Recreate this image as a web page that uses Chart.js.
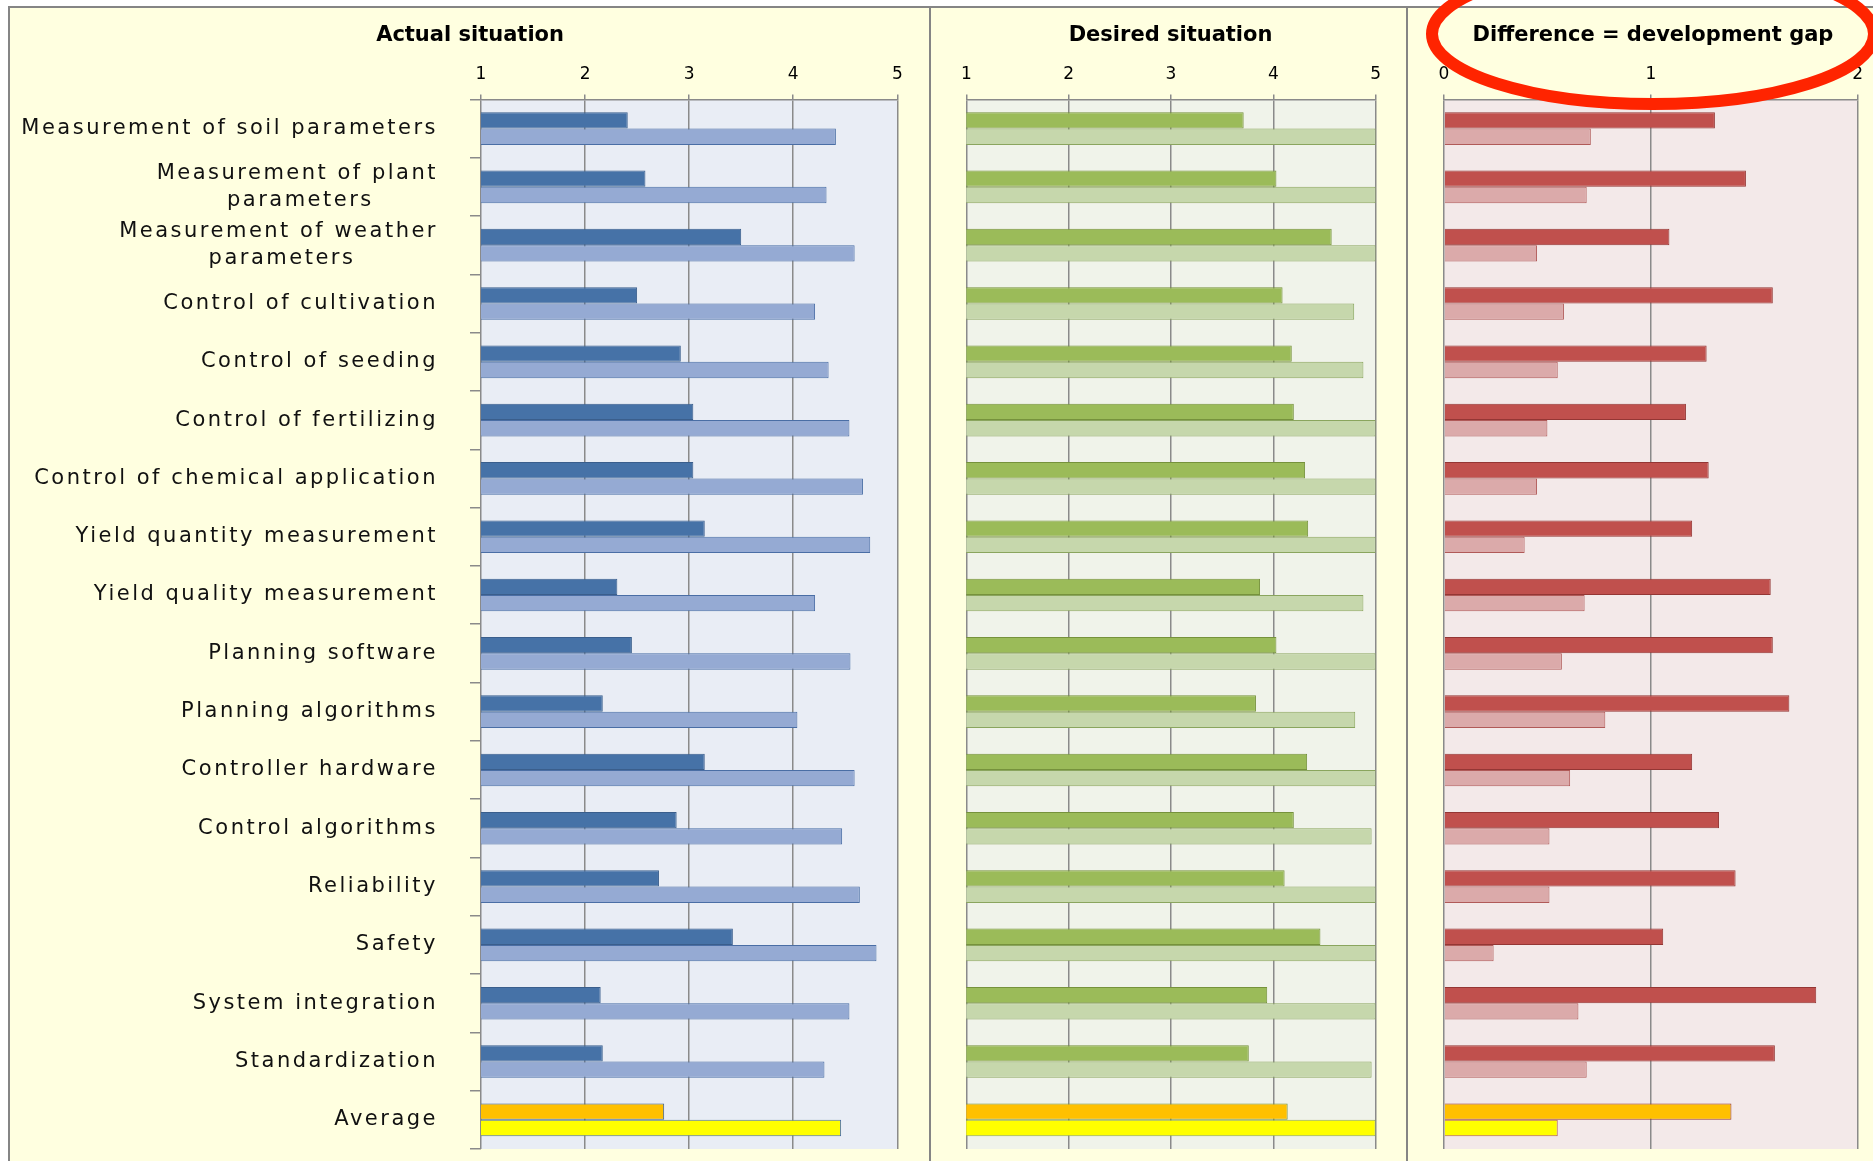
<!DOCTYPE html>
<html>
<head>
<meta charset="utf-8">
<script src="https://cdn.jsdelivr.net/npm/chart.js"></script>
<style>
  body { margin: 0; background: #fff; }
  #page { position: relative; width: 1873px; height: 1161px; overflow: hidden; }
  #frame { position: absolute; left: 8px; top: 6px; right: 0; bottom: 0;
           background: #FFFFE0; border-left: 2px solid #858585; border-top: 2px solid #858585; }
  .sep { position: absolute; top: 6px; bottom: 0; width: 2px; background: #858585; }
  canvas { position: absolute; top: 0; }
</style>
</head>
<body>
<div id="page">
  <div id="frame"></div>
  <div class="sep" style="left:929px"></div>
  <div class="sep" style="left:1406px"></div>
  <canvas id="actual" width="930" height="1161" style="left:0"></canvas>
  <canvas id="desired" width="477" height="1161" style="left:930px"></canvas>
  <canvas id="gap" width="466" height="1161" style="left:1407px"></canvas>
</div>
<script>
const categories = [
  'Measurement of soil parameters',
  ['Measurement of plant', 'parameters       '],
  ['Measurement of weather', 'parameters         '],
  'Control of cultivation',
  'Control of seeding',
  'Control of fertilizing',
  'Control of chemical application',
  'Yield quantity measurement',
  'Yield quality measurement',
  'Planning software',
  'Planning algorithms',
  'Controller hardware',
  'Control algorithms',
  'Reliability',
  'Safety',
  'System integration',
  'Standardization',
  'Average'
];

const actual1  = [2.41, 2.58, 3.50, 2.50, 2.92, 3.04, 3.04, 3.15, 2.31, 2.45, 2.17, 3.15, 2.88, 2.71, 3.42, 2.15, 2.17, 2.76];
const actual2  = [4.41, 4.32, 4.59, 4.21, 4.34, 4.54, 4.67, 4.74, 4.21, 4.55, 4.04, 4.59, 4.47, 4.64, 4.80, 4.54, 4.30, 4.46];
const desired1 = [3.71, 4.03, 4.57, 4.09, 4.18, 4.20, 4.31, 4.34, 3.87, 4.03, 3.83, 4.33, 4.20, 4.11, 4.46, 3.94, 3.76, 4.14];
const desired2 = [5.00, 5.00, 5.00, 4.79, 4.88, 5.00, 5.00, 5.00, 4.88, 5.00, 4.80, 5.00, 4.96, 5.00, 5.00, 5.00, 4.96, 5.00];
const gap1     = [1.31, 1.46, 1.09, 1.59, 1.27, 1.17, 1.28, 1.20, 1.58, 1.59, 1.67, 1.20, 1.33, 1.41, 1.06, 1.80, 1.60, 1.39];
const gap2     = [0.71, 0.69, 0.45, 0.58, 0.55, 0.50, 0.45, 0.39, 0.68, 0.57, 0.78, 0.61, 0.51, 0.51, 0.24, 0.65, 0.69, 0.55];

const titles = ['Actual situation', 'Desired situation', 'Difference = development gap'];

const GRID = '#8A8A8A';
const last = categories.length - 1;

// last row (Average) is drawn orange / yellow
function fills(main, avg) {
  return categories.map((c, i) => i === last ? avg : main);
}

const plotBg = {
  id: 'plotBg',
  beforeDraw(chart, args, opts) {
    const { ctx, chartArea: a } = chart;
    ctx.save();
    ctx.fillStyle = opts.color;
    ctx.fillRect(a.left, a.top, a.width, a.height);
    ctx.restore();
  }
};

// move the title a bit to the right, like the original
const titleShift = {
  id: 'titleShift',
  afterLayout(chart, args, opts) {
    const t = chart.titleBlock;
    if (t) { t.left += opts.dx; t.right += opts.dx; }
  }
};

// wide spacing for the category labels (drawn after datasets, z: 1)
const spacing = {
  id: 'spacing',
  afterDatasetsDraw(chart) { chart.ctx.letterSpacing = '2.5px'; },
  afterDraw(chart) { chart.ctx.letterSpacing = '0px'; }
};

const ellipse = {
  id: 'ellipse',
  afterDraw(chart) {
    const ctx = chart.ctx;
    ctx.save();
    ctx.strokeStyle = '#FF2400';
    ctx.lineWidth = 12;
    ctx.beginPath();
    ctx.ellipse(246, 34, 221, 70, 0, 0, Math.PI * 2);
    ctx.stroke();
    ctx.restore();
  }
};

function makeChart(id, opt) {
  return new Chart(document.getElementById(id), {
    type: 'bar',
    data: {
      labels: categories,
      datasets: [{
        data: opt.first,
        backgroundColor: fills(opt.c1, '#FFC000'),
        borderColor: opt.b1,
        borderWidth: 1
      }, {
        data: opt.second,
        backgroundColor: fills(opt.c2, '#FFFF00'),
        borderColor: opt.b2,
        borderWidth: 1
      }]
    },
    options: {
      indexAxis: 'y',
      responsive: false,
      animation: false,
      layout: { padding: { left: 0, right: opt.right, top: 0, bottom: 12 } },
      datasets: { bar: { barPercentage: 1.0, categoryPercentage: 0.56 } },
      plugins: {
        legend: { display: false },
        tooltip: { enabled: false },
        title: {
          display: true,
          text: opt.title,
          color: '#000',
          font: { family: 'DejaVu Sans', size: 21, weight: 'bold' },
          padding: { top: 23.4, bottom: 0 }
        },
        plotBg: { color: opt.bg },
        titleShift: { dx: opt.dx }
      },
      scales: {
        x: {
          position: 'top',
          min: opt.min,
          max: opt.max,
          afterFit: (s) => { s.height = 50.8; },
          ticks: { stepSize: 1, padding: 10, color: '#000',
                   font: { family: 'DejaVu Sans', size: 17 } },
          grid: { color: GRID, lineWidth: 1.5, tickLength: 5 },
          border: { display: true, color: GRID, width: 1.5 }
        },
        y: {
          afterFit: (s) => { s.width = opt.yWidth; s.paddingTop = 0; s.paddingBottom = 0; },
          ticks: {
            display: opt.labels,
            autoSkip: false,
            z: 1,
            padding: 32,
            color: '#111',
            font: { family: 'DejaVu Sans', size: 21, lineHeight: 1.31 }
          },
          grid: { display: opt.labels, drawOnChartArea: false, tickLength: 11, color: GRID, lineWidth: 1.5 },
          border: { display: false }
        }
      }
    },
    plugins: opt.plugins
  });
}

makeChart('actual', {
  title: titles[0], first: actual1, second: actual2,
  c1: '#4672A7', b1: '#3A5E8C', c2: '#95AAD3', b2: '#4A6EA5',
  bg: '#E9EDF5', min: 1, max: 5, right: 32.7, yWidth: 481, dx: 21.4, labels: true,
  plugins: [plotBg, titleShift, spacing]
});

makeChart('desired', {
  title: titles[1], first: desired1, second: desired2,
  c1: '#9BBB59', b1: '#76923C', c2: '#C6D7AC', b2: '#8AA55E',
  bg: '#F0F3EA', min: 1, max: 5, right: 31.3, yWidth: 36.3, dx: 17.7, labels: false,
  plugins: [plotBg, titleShift]
});

makeChart('gap', {
  title: titles[2], first: gap1, second: gap2,
  c1: '#C0504D', b1: '#943634', c2: '#DBAAAA', b2: '#B05A58',
  bg: '#F3E9E9', min: 0, max: 2, right: 10.3, yWidth: 37, dx: 18.1, labels: false,
  plugins: [plotBg, titleShift, ellipse]
});
</script>
</body>
</html>
